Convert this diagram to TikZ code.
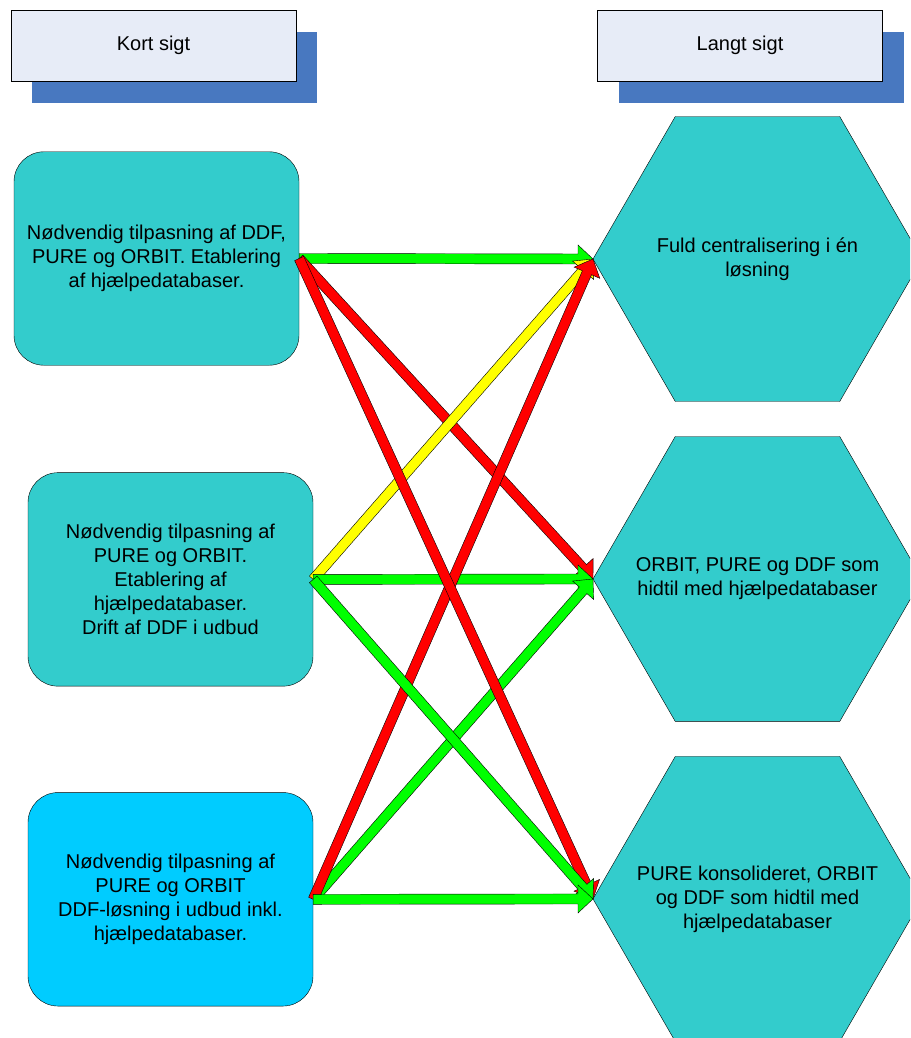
\documentclass[tikz,border=0pt]{standalone}
\usepackage{fontspec}
\setmainfont{Liberation Sans}
\usetikzlibrary{shapes.geometric,positioning,calc,shadows}

\definecolor{hdrfill}{HTML}{E7ECF7}
\definecolor{hdrshadow}{HTML}{4878C0}
\definecolor{optteal}{HTML}{33CCCC}
\definecolor{optsky}{HTML}{00CCFF}
\definecolor{arrgreen}{HTML}{00FF00}
\definecolor{arrred}{HTML}{FF0000}
\definecolor{arryellow}{HTML}{FFFF00}

\begin{document}
\begin{tikzpicture}[
  x=1pt, y=-1pt,
  font=\fontsize{20pt}{24pt}\selectfont,
  header/.style={draw, fill=hdrfill, minimum width=285pt, minimum height=71pt,
    general shadow={fill=hdrshadow, shadow xshift=21pt, shadow yshift=-22pt}},
  shortbox/.style={draw, fill=optteal, rounded corners=30pt, align=center,
    minimum width=285pt, minimum height=213.5pt},
  longhex/.style={regular polygon, regular polygon sides=6, draw, fill=optteal,
    minimum size=329pt, inner sep=0pt, outer sep=0pt,
    label={[align=center]center:#1}},
  blockarrow/.style={draw=black, fill=#1, line join=miter,
    to path={let \p1=($(\tikztotarget)!15pt!(\tikztostart)$) in
      ($(\tikztostart)!5pt!90:(\tikztotarget)$)
      -- ($(\p1)!5pt!90:(\tikztotarget)$)
      -- ($(\p1)!14pt!90:(\tikztotarget)$)
      -- (\tikztotarget)
      -- ($(\p1)!14pt!-90:(\tikztotarget)$)
      -- ($(\p1)!5pt!-90:(\tikztotarget)$)
      -- ($(\tikztostart)!5pt!-90:(\tikztotarget)$) -- cycle}}
]
  \useasboundingbox (0,0) rectangle (910,1038);
  \clip (0,0) rectangle (910,1038);

  \node[header] (kort) at (153.5,45.5) {Kort sigt};
  \node[header] (langt) at (740,45.5) {Langt sigt};

  \node[shortbox] (b1) at (156.5,258.5)
    {Nødvendig tilpasning af DDF,\\PURE og ORBIT. Etablering\\af hjælpedatabaser.};
  \node[shortbox, below=107pt of b1, xshift=14pt] (b2)
    {Nødvendig tilpasning af\\PURE og ORBIT.\\Etablering af\\hjælpedatabaser.\\Drift af DDF i udbud};
  \node[shortbox, fill=optsky, below=106pt of b2] (b3)
    {Nødvendig tilpasning af\\PURE og ORBIT\\DDF-løsning i udbud inkl.\\hjælpedatabaser.};

  \node[longhex={Fuld centralisering i én\\løsning}] (h1) at (757.5,259) {};
  \node[longhex={ORBIT, PURE og DDF som\\hidtil med hjælpedatabaser}, below=35pt of h1] (h2) {};
  \node[longhex={PURE konsolideret, ORBIT\\og DDF som hidtil med\\hjælpedatabaser}, below=35pt of h2] (h3) {};

  \draw[blockarrow=arrgreen] (b1.east) to (h1.west);
  \draw[blockarrow=arrred] (b1.east) to (h2.west);
  \draw[blockarrow=arryellow] (b2.east) to (h1.west);
  \draw[blockarrow=arrgreen] (b2.east) to (h2.west);
  \draw[blockarrow=arrgreen] (b3.east) to (h2.west);
  \draw[blockarrow=arrred] (b3.east) to (h1.west);
  \draw[blockarrow=arrred] (b1.east) to (h3.west);
  \draw[blockarrow=arrgreen] (b2.east) to (h3.west);
  \draw[blockarrow=arrgreen] (b3.east) to (h3.west);
\end{tikzpicture}
\end{document}
